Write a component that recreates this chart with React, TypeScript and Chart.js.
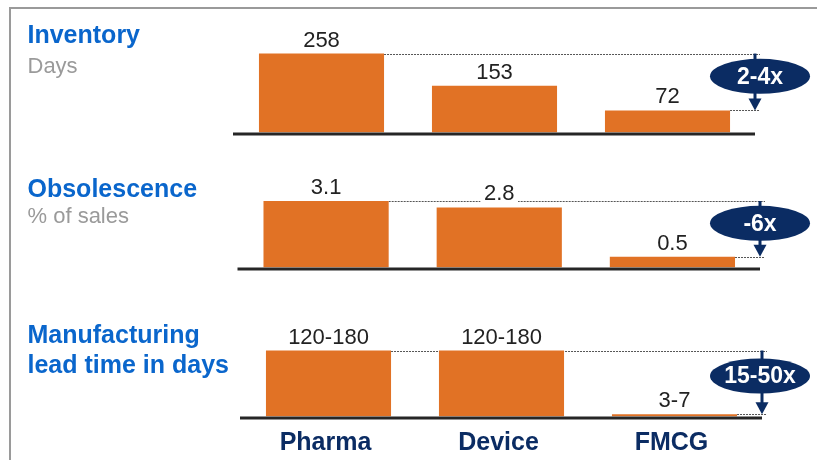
import React, { useEffect, useRef } from "react";
import { Chart, registerables } from "chart.js";

Chart.register(...registerables);

// ---------- data ----------
const categories = ["Pharma", "Device", "FMCG"];
const inventoryDays = [258, 153, 72];
const inventoryLabels = ["258", "153", "72"];
const obsolescencePct = [3.1, 2.8, 0.5];
const obsolescenceLabels = ["3.1", "2.8", "0.5"];
const leadTimeMid = [150, 150, 5];
const leadTimeLabels = ["120-180", "120-180", "3-7"];
const multipliers = ["2-4x", "-6x", "15-50x"];
const titleMain = ["Inventory", "Obsolescence", "Manufacturing"];
const titleSub = ["Days", "% of sales", "lead time in days"];
const axisMax = [300, 4, 200];

// ---------- style ----------
const ORANGE = "#E17225";
const NAVY = "#0B2C63";
const BLUE = "#0A66CC";
const GREY = "#9A9A9A";
const FONT = '"Liberation Sans", Arial, Helvetica, sans-serif';

type Panel = {
  values: number[];
  labels: string[];
  max: number;
  left: number;
  right: number;
  bottom: number;
  ppu: number;
  mult: string;
  ellipseX: number;
  title: { text: string; y: number; bold: boolean; color: string; size: number }[];
  showCats: boolean;
};

const panels: Panel[] = [
  {
    values: inventoryDays,
    labels: inventoryLabels,
    max: axisMax[0],
    left: 235,
    right: 754,
    bottom: 132.5,
    ppu: 0.306,
    mult: multipliers[0],
    ellipseX: 760,
    title: [
      { text: titleMain[0], y: 42.7, bold: true, color: BLUE, size: 25 },
      { text: titleSub[0], y: 72.7, bold: false, color: GREY, size: 22 },
    ],
    showCats: false,
  },
  {
    values: obsolescencePct,
    labels: obsolescenceLabels,
    max: axisMax[1],
    left: 239.5,
    right: 759,
    bottom: 267.5,
    ppu: 21.45,
    mult: multipliers[1],
    ellipseX: 760,
    title: [
      { text: titleMain[1], y: 196.7, bold: true, color: BLUE, size: 25 },
      { text: titleSub[1], y: 223.3, bold: false, color: GREY, size: 22 },
    ],
    showCats: false,
  },
  {
    values: leadTimeMid,
    labels: leadTimeLabels,
    max: axisMax[2],
    left: 242,
    right: 761,
    bottom: 416.5,
    ppu: 0.44,
    mult: multipliers[2],
    ellipseX: 760,
    title: [
      { text: titleMain[2], y: 343, bold: true, color: BLUE, size: 25 },
      { text: titleSub[2], y: 373, bold: true, color: BLUE, size: 25 },
    ],
    showCats: true,
  },
];

const W = 817;
const H = 460;

const decoPlugin = {
  id: "panelDeco",
  beforeDatasetsDraw(chart: any, _args: any, opts: any) {
    const p: Panel = opts.panel;
    if (!p) return;
    const { ctx, chartArea, scales } = chart;
    const y = scales.y;
    const meta = chart.getDatasetMeta(0);
    const vals = p.values;
    let iMax = 0;
    let iMin = 0;
    vals.forEach((v, i) => {
      if (v > vals[iMax]) iMax = i;
      if (v < vals[iMin]) iMin = i;
    });
    const arrowX = chartArea.right + 1;
    ctx.save();
    ctx.setLineDash([2, 1]);
    ctx.strokeStyle = "#555";
    ctx.lineWidth = 1;
    const bMax = meta.data[iMax];
    const yTop = Math.round(y.getPixelForValue(vals[iMax])) + 0.5;
    ctx.beginPath();
    ctx.moveTo(bMax.x + bMax.width / 2, yTop);
    ctx.lineTo(arrowX + 5, yTop);
    ctx.stroke();
    const bMin = meta.data[iMin];
    const yLow = Math.round(y.getPixelForValue(vals[iMin])) + 0.5;
    ctx.beginPath();
    ctx.moveTo(bMin.x + bMin.width / 2, yLow);
    ctx.lineTo(arrowX + 5, yLow);
    ctx.stroke();
    ctx.restore();
  },
  afterDatasetsDraw(chart: any, _args: any, opts: any) {
    const p: Panel = opts.panel;
    if (!p) return;
    const { ctx, chartArea, scales } = chart;
    const y = scales.y;
    const meta = chart.getDatasetMeta(0);
    const vals = p.values;
    let iMax = 0;
    let iMin = 0;
    vals.forEach((v, i) => {
      if (v > vals[iMax]) iMax = i;
      if (v < vals[iMin]) iMin = i;
    });
    ctx.save();

    // axis line
    const base = y.getPixelForValue(0);
    ctx.strokeStyle = "#262626";
    ctx.lineWidth = 3;
    ctx.beginPath();
    ctx.moveTo(chartArea.left - 2, base + 1.5);
    ctx.lineTo(chartArea.right + 1, base + 1.5);
    ctx.stroke();

    // value labels
    ctx.font = `22px ${FONT}`;
    ctx.textAlign = "center";
    ctx.textBaseline = "alphabetic";
    meta.data.forEach((bar: any, i: number) => {
      const txt = p.labels[i];
      const tw = ctx.measureText(txt).width;
      const by = bar.y - 7;
      ctx.fillStyle = "#ffffff";
      ctx.fillRect(bar.x - tw / 2 - 3.5, by - 17, tw + 7, 21);
      ctx.fillStyle = "#222222";
      ctx.fillText(txt, bar.x, by);
    });

    // arrow
    const arrowX = chartArea.right + 1;
    const yTop = y.getPixelForValue(vals[iMax]);
    const yLow = y.getPixelForValue(vals[iMin]);
    ctx.strokeStyle = NAVY;
    ctx.fillStyle = NAVY;
    ctx.lineWidth = 3;
    ctx.beginPath();
    ctx.moveTo(arrowX, yTop);
    ctx.lineTo(arrowX, yLow - 11);
    ctx.stroke();
    ctx.beginPath();
    ctx.moveTo(arrowX - 6.5, yLow - 12);
    ctx.lineTo(arrowX + 6.5, yLow - 12);
    ctx.lineTo(arrowX, yLow);
    ctx.closePath();
    ctx.fill();

    // ellipse
    const ey = yTop + 0.4 * (yLow - yTop);
    ctx.beginPath();
    ctx.ellipse(p.ellipseX, ey, 50, 17.5, 0, 0, Math.PI * 2);
    ctx.fill();
    ctx.fillStyle = "#ffffff";
    ctx.font = `bold 23px ${FONT}`;
    ctx.textAlign = "center";
    ctx.textBaseline = "middle";
    ctx.fillText(p.mult, p.ellipseX, ey + 1);

    // titles
    ctx.textAlign = "left";
    ctx.textBaseline = "alphabetic";
    p.title.forEach((t) => {
      ctx.font = `${t.bold ? "bold " : ""}${t.size}px ${FONT}`;
      ctx.fillStyle = t.color;
      ctx.fillText(t.text, 27.5, t.y);
    });

    // category labels
    if (p.showCats) {
      ctx.font = `bold 25px ${FONT}`;
      ctx.fillStyle = NAVY;
      ctx.textAlign = "center";
      meta.data.forEach((bar: any, i: number) => {
        ctx.fillText(categories[i], bar.x - 3, base + 33);
      });
    }
    ctx.restore();
  },
};

function PanelChart({ panel }: { panel: Panel }) {
  const ref = useRef<HTMLCanvasElement | null>(null);
  useEffect(() => {
    if (!ref.current) return;
    const top = panel.bottom - panel.max * panel.ppu;
    const chart = new Chart(ref.current, {
      type: "bar",
      data: {
        labels: categories,
        datasets: [
          {
            data: panel.values,
            backgroundColor: ORANGE,
            borderWidth: 0,
            barPercentage: 0.723,
            categoryPercentage: 1,
          },
        ],
      },
      options: {
        responsive: false,
        animation: false,
        devicePixelRatio: 1,
        layout: {
          padding: {
            left: panel.left,
            right: W - panel.right,
            top: top,
            bottom: H - panel.bottom,
          },
        },
        scales: {
          x: { display: false },
          y: { display: false, min: 0, max: panel.max },
        },
        plugins: {
          legend: { display: false },
          tooltip: { enabled: false },
          panelDeco: { panel },
        } as any,
      },
      plugins: [decoPlugin as any],
    });
    return () => chart.destroy();
  }, [panel]);
  return (
    <canvas
      ref={ref}
      width={W}
      height={H}
      style={{ position: "absolute", left: 0, top: 0, width: W, height: H }}
    />
  );
}

export default function App() {
  return (
    <div
      style={{
        position: "fixed",
        left: 0,
        top: 0,
        width: W,
        height: H,
        background: "#ffffff",
        overflow: "hidden",
      }}
    >
      <div
        style={{
          position: "absolute",
          left: 9,
          top: 7,
          width: W,
          height: H,
          borderLeft: "2px solid #9A9A9A",
          borderTop: "2px solid #9A9A9A",
        }}
      />
      {panels.map((p, i) => (
        <PanelChart key={i} panel={p} />
      ))}
    </div>
  );
}
